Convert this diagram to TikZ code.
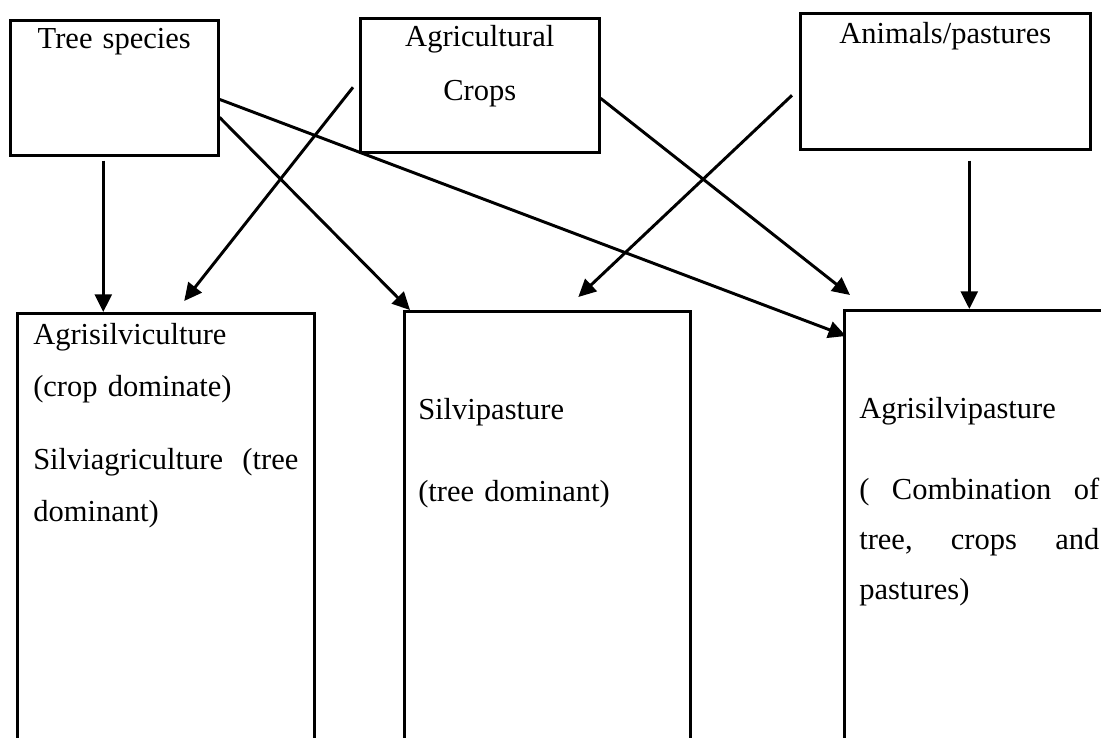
\documentclass[tikz,border=0pt]{standalone}
\usepackage{fontspec}
\setmainfont{Liberation Serif}
\usetikzlibrary{arrows.meta}
\newcommand{\spreadline}[2]{\leavevmode\hbox to #1{#2}}

\begin{document}
\begin{tikzpicture}[x=0.025cm,y=-0.025cm,>={Triangle[length=0.44cm,width=0.42cm]},
    every node/.style={font=\fontsize{21.7pt}{37pt}\selectfont},
    topbox/.style={draw,line width=1.8pt,anchor=north west,inner sep=0pt,align=center},
    basebox/.style={draw,line width=1.8pt,anchor=north west,inner ysep=0pt,align=left},
    link/.style={->,line width=2.1pt}]
  \useasboundingbox (0,0) rectangle (1101,738);
  % components
  \node[topbox,text width=5.2cm,text height=0.7cm,text depth=2.675cm] (tree) at (9,19)
    {Tree species};
  \node[topbox,text width=5.975cm,text height=0.7cm,text depth=2.65cm] (crops) at (359,17)
    {Agricultural\\[1.4pt]Crops};
  \node[topbox,text width=7.25cm,text height=0.75cm,text depth=2.65cm] (animals) at (799,12)
    {Animals/pastures};
  % systems
  \node[basebox,inner xsep=0.4cm,text width=6.625cm,text height=0.775cm,text depth=9.95cm] (agsc) at (16,312)
    {Agrisilviculture\\(crop dominate)\\[15pt]\spreadline{6.625cm}{Silviagriculture \hfill(tree}\\dominant)};
  \node[basebox,inner xsep=0.35cm,text width=6.45cm,text height=2.7cm,text depth=8.075cm] (silvi) at (403,310)
    {Silvipasture\\[21.5pt](tree dominant)};
  \node[basebox,inner xsep=0.375cm,text width=6cm,text height=2.7cm,text depth=8.1cm] (agsp) at (843,309)
    {Agrisilvipasture\\[20.6pt]\spreadline{6cm}{( \hfill Combination \hfill of}\\[-1.4pt]%
     \spreadline{6cm}{tree, \hfill crops \hfill and}\\[-1.4pt]pastures)};
  % links
  \coordinate (treedown) at ([xshift=-0.275cm,yshift=-0.1cm]tree.south);
  \coordinate (animalsdown) at ([xshift=0.6cm,yshift=-0.25cm]animals.south);
  \draw[link] (treedown) -- (treedown |- agsc.north);
  \draw[link] ([xshift=-0.15cm,yshift=-0.05cm]crops.west) -- ([xshift=0.46cm,yshift=0.275cm]agsc.north);
  \draw[link] ([yshift=-0.74cm]tree.east) -- ([xshift=0.175cm]silvi.north west);
  \draw[link] ([xshift=-0.175cm,yshift=-0.35cm]animals.west) -- ([xshift=0.775cm,yshift=0.325cm]silvi.north);
  \draw[link] ([yshift=-0.325cm]crops.east) -- ([xshift=0.175cm,yshift=0.35cm]agsp.north west);
  \draw[link] ([yshift=-0.29cm]tree.east) -- ([xshift=0.075cm,yshift=-0.675cm]agsp.north west);
  \draw[link] (animalsdown) -- (animalsdown |- agsp.north);
\end{tikzpicture}
\end{document}
